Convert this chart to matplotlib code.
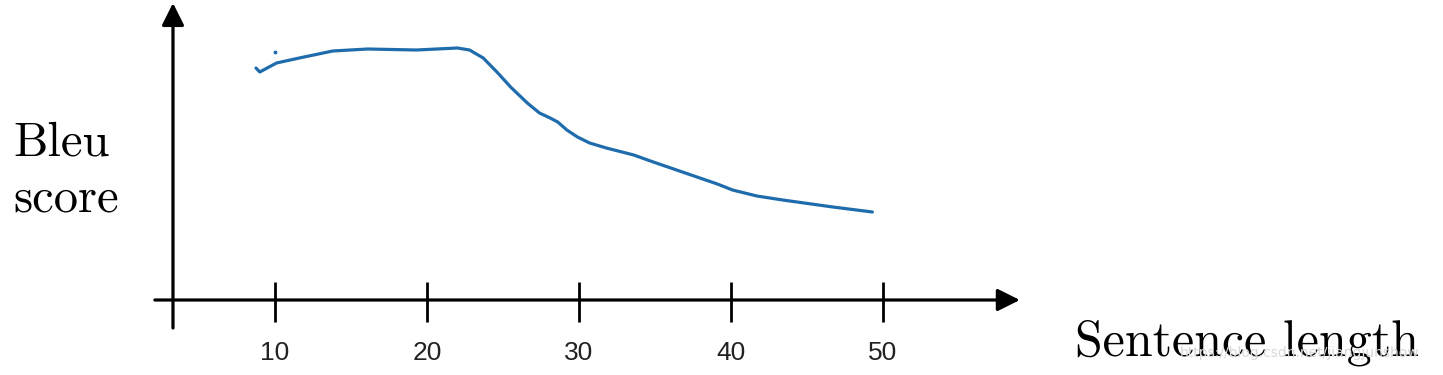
import matplotlib.pyplot as plt

# Sketch of Bleu score vs sentence length (values read off the picture,
# score in arbitrary units above the x axis)
length = [8.75, 9.0, 10.1, 11.6, 13.8, 16.1, 19.3, 22.0, 22.8, 23.7, 24.6, 25.5,
          26.6, 27.4, 28.1, 28.6, 29.2, 29.9, 30.7, 31.8, 33.6, 34.7, 36.8,
          39.1, 40.1, 41.7, 43.4, 46.7, 49.3]
score = [232, 228, 237, 242, 249, 251, 250, 252, 250, 242, 228, 213,
         197, 187, 182, 178, 170, 163, 157, 152, 145, 139, 128,
         116, 110, 104, 100, 93, 88]

ticks = [10, 20, 30, 40, 50]
tick_labels = ['10', '20', '30', '40', '50']

fig = plt.figure(figsize=(14.43, 3.75), dpi=100)
ax = fig.add_axes([0, 0, 1, 1])
ax.set_xlim(-8.09, 86.84)
ax.set_ylim(-75, 300)
ax.axis('off')

# axes drawn by hand with arrow heads
y_axis_x = 3.29
arrow = dict(arrowstyle='-|>', lw=2.3, color='black', mutation_scale=34,
             shrinkA=0, shrinkB=0)
ax.annotate('', xy=(y_axis_x, 297), xytext=(y_axis_x, -28), arrowprops=arrow)
ax.annotate('', xy=(59.0, 0), xytext=(2.1, 0), arrowprops=arrow)

ax.vlines(ticks, -22, 18, color='black', lw=2.0)
for t, lab in zip(ticks, tick_labels):
    ax.text(t, -53, lab, ha='center', va='center', fontsize=19,
            family='Liberation Sans', color='#222222')

# the curve
ax.plot(length, score, color='#1f6cad', lw=2.3, solid_capstyle='round',
        solid_joinstyle='round')
ax.plot([10.0], [248], 'o', color='#1f6cad', ms=1.8)

# labels
ax.text(-7.2, 145, 'Bleu', fontsize=35, family='cmr10', va='baseline')
ax.text(-7.2, 88, 'score', fontsize=35, family='cmr10', va='baseline')
ax.text(62.6, -55, 'Sentence length', fontsize=36, family='cmr10', va='baseline')

# watermark
ax.text(69.5, -53, 'https://blog.csdn.net/jiangjunshow', fontsize=10,
        color='#d8d8d8', va='center', family='DejaVu Sans')

fig.savefig('out.png', dpi=100)
